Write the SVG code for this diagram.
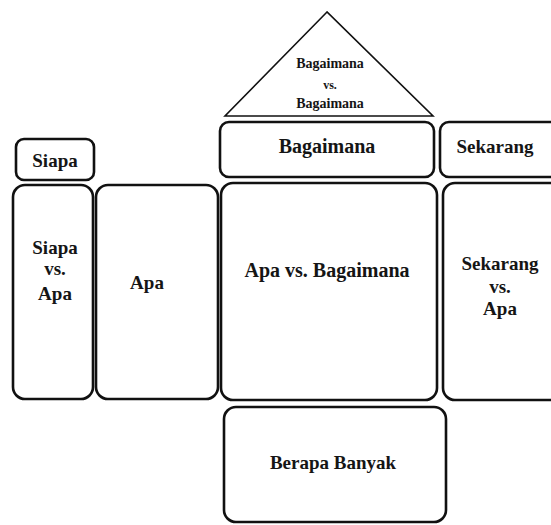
<svg xmlns="http://www.w3.org/2000/svg" width="551" height="525" viewBox="0 0 551 525">
<style>
.b{fill:#fff;stroke:#111;stroke-width:2.6}
.t{font-family:"Liberation Serif","DejaVu Serif",serif;font-weight:bold;font-size:19px;fill:#151515;text-anchor:middle}
.l{font-size:20px}
.s{font-size:14px}
.xs{font-size:12px}
</style>
<rect width="551" height="525" fill="#fff"/>
<g id="triangle">
<polygon points="327,12 225,116 433,116" fill="#fff" stroke="#111" stroke-width="1.6" stroke-linejoin="miter"/>
<text class="t s" x="330" y="68">Bagaimana</text>
<text class="t xs" x="330" y="89">vs.</text>
<text class="t s" x="330" y="108">Bagaimana</text>
</g>
<g id="bagaimana">
<rect class="b" x="220" y="122" width="214" height="55" rx="9"/>
<text class="t l" x="327" y="153">Bagaimana</text>
</g>
<g id="sekarang">
<rect class="b" x="440" y="122" width="122" height="55" rx="9"/>
<text class="t" x="495" y="153">Sekarang</text>
</g>
<g id="siapa">
<rect class="b" x="16" y="139" width="78" height="41" rx="8"/>
<text class="t" x="55" y="167">Siapa</text>
</g>
<g id="siapa-vs-apa">
<rect class="b" x="13" y="185" width="80" height="214" rx="12"/>
<text class="t" x="55" y="254">Siapa</text>
<text class="t" x="55" y="275">vs.</text>
<text class="t" x="55" y="300">Apa</text>
</g>
<g id="apa">
<rect class="b" x="96" y="185" width="122" height="214" rx="12"/>
<text class="t" x="147" y="289">Apa</text>
</g>
<g id="apa-vs-bagaimana">
<rect class="b" x="221" y="183" width="216" height="217" rx="12"/>
<text class="t l" x="327" y="277">Apa vs. Bagaimana</text>
</g>
<g id="sekarang-vs-apa">
<rect class="b" x="443" y="183" width="122" height="217" rx="12"/>
<text class="t" x="500" y="270">Sekarang</text>
<text class="t" x="500" y="293">vs.</text>
<text class="t" x="500" y="315">Apa</text>
</g>
<g id="berapa-banyak">
<rect class="b" x="224" y="407" width="222" height="115" rx="12"/>
<text class="t" x="333" y="469">Berapa Banyak</text>
</g>
<g id="connectors"/>
</svg>
